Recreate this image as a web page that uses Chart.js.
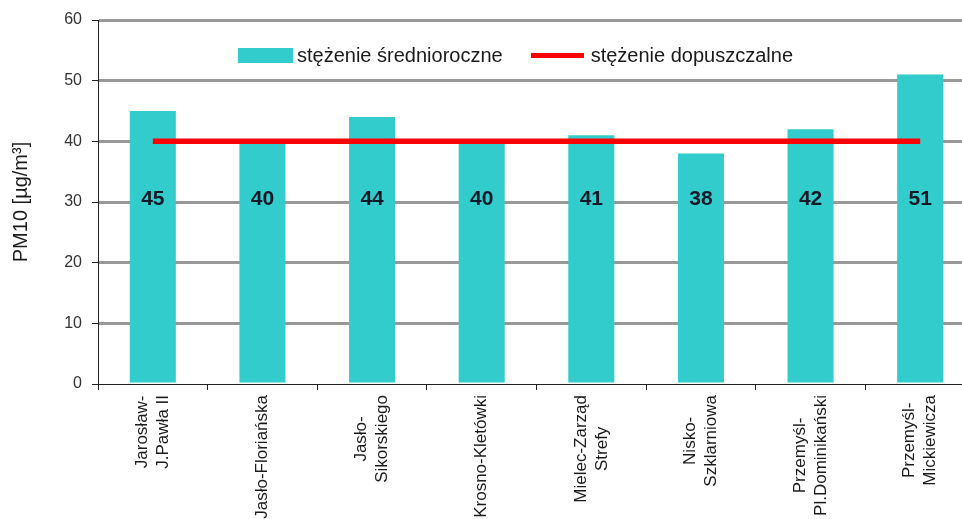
<!DOCTYPE html>
<html>
<head>
<meta charset="utf-8">
<script src="https://cdn.jsdelivr.net/npm/chart.js@4/dist/chart.umd.min.js"></script>
<style>
  html, body { margin: 0; padding: 0; overflow: hidden; background: #fff; }
  #wrap { position: relative; width: 976px; height: 519px; }
  .legend { position: absolute; top: 44px; left: 238px; height: 23px; display: flex; align-items: center;
            font: 20px "Liberation Sans", Arial, sans-serif; color: #1a1a1a; white-space: nowrap; }
  .legend .box  { width: 55px; height: 15px; background: #33CCCC; margin-right: 4px; }
  .legend .line { width: 53px; height: 5px; background: #FF0000; margin: 0 7px 0 28px; }
</style>
</head>
<body>
<div id="wrap">
  <canvas id="chart"></canvas>
  <div class="legend" id="legend"></div>
</div>
<script>
// Dane — stężenie PM10 (średnioroczne vs dopuszczalne)
const stations = [
  ['Jarosław-', 'J.Pawła II'],
  ['Jasło-Floriańska'],
  ['Jasło-', 'Sikorskiego'],
  ['Krosno-Kletówki'],
  ['Mielec-Zarząd', 'Strefy'],
  ['Nisko-', 'Szklarniowa'],
  ['Przemyśl-', 'Pl.Dominikański'],
  ['Przemyśl-', 'Mickiewicza'],
];
const annualMean = [45, 40, 44, 40, 41, 38, 42, 51];
const limitValue = [40, 40, 40, 40, 40, 40, 40, 40];
const yTicks     = [0, 10, 20, 30, 40, 50, 60];
const seriesNames = ['stężenie średnioroczne', 'stężenie dopuszczalne'];

const FONT = '"Liberation Sans", Arial, sans-serif';
const TEAL = '#33CCCC';
const RED  = '#FF0000';

document.getElementById('legend').innerHTML =
  `<span class="box"></span>${seriesNames[0]}<span class="line"></span>${seriesNames[1]}`;

// liczby w słupkach (na wysokości 30)
const valueLabels = {
  id: 'valueLabels',
  afterDatasetsDraw(chart) {
    const { ctx } = chart;
    const y = chart.scales.y.getPixelForValue(30);
    const meta = chart.getDatasetMeta(0);
    ctx.save();
    ctx.font = `bold 21px ${FONT}`;
    ctx.fillStyle = '#111827';
    ctx.textAlign = 'center';
    ctx.textBaseline = 'middle';
    meta.data.forEach((bar, i) => ctx.fillText(String(annualMean[i]), bar.x, y - 3));
    ctx.restore();
  },
};

// etykiety osi X — obrócone, linie wyśrodkowane względem siebie
const xLabels = {
  id: 'xLabels',
  afterDraw(chart) {
    const { ctx } = chart;
    const xs = chart.scales.x;
    const top = xs.top + 11;
    const lh = 21;
    ctx.save();
    ctx.font = `17px ${FONT}`;
    ctx.fillStyle = '#1a1a1a';
    ctx.textBaseline = 'middle';
    ctx.textAlign = 'right';
    stations.forEach((lines, i) => {
      const cx = xs.getPixelForValue(i);
      const widths = lines.map(l => ctx.measureText(l).width);
      const maxW = Math.max(...widths);
      lines.forEach((l, j) => {
        const x = cx + (j - (lines.length - 1) / 2) * lh;
        const y = top + (maxW - widths[j]) / 2;
        ctx.save();
        ctx.translate(x, y);
        ctx.rotate(-Math.PI / 2);
        ctx.fillText(l, 0, 0);
        ctx.restore();
      });
    });
    ctx.restore();
  },
};

new Chart(document.getElementById('chart'), {
  data: {
    labels: stations.map(s => s.join(' ')),
    datasets: [
      {
        type: 'bar',
        label: seriesNames[0],
        data: annualMean,
        backgroundColor: TEAL,
        borderWidth: 0,
        categoryPercentage: 1,
        barPercentage: 0.42,
        order: 1,
      },
      {
        type: 'line',
        label: seriesNames[1],
        data: limitValue,
        borderColor: RED,
        borderWidth: 5.5,
        borderCapStyle: 'butt',
        pointRadius: 0,
        fill: false,
        order: 0,
      },
    ],
  },
  options: {
    responsive: true,
    maintainAspectRatio: false,
    animation: false,
    layout: { padding: { top: 20, right: 1, left: 0, bottom: 0 } },
    plugins: { legend: { display: false }, tooltip: { enabled: false } },
    scales: {
      x: {
        afterFit: s => { s.height = 135; },
        ticks: { display: false },
        grid: { drawOnChartArea: false, offset: true, tickLength: 6, tickColor: '#222', tickWidth: 1, color: '#222' },
        border: { color: '#222', width: 1 },
      },
      y: {
        min: 0,
        max: 60,
        afterFit: s => { s.width = 98; },
        afterBuildTicks: s => { s.ticks = yTicks.map(v => ({ value: v })); },
        ticks: { font: { family: FONT, size: 16 }, color: '#333', padding: 10 },
        grid: {
          color: c => (c.tick && c.tick.value === 0 ? 'rgba(0,0,0,0)' : '#999999'),
          lineWidth: 3,
          tickLength: 6,
          tickColor: '#222',
          tickWidth: 1,
        },
        border: { color: '#222', width: 1 },
        title: {
          display: true,
          text: 'PM10 [µg/m³]',
          font: { family: FONT, size: 20 },
          color: '#1a1a1a',
          padding: { top: 9, bottom: 0 },
        },
      },
    },
  },
  plugins: [valueLabels, xLabels],
});
</script>
</body>
</html>
